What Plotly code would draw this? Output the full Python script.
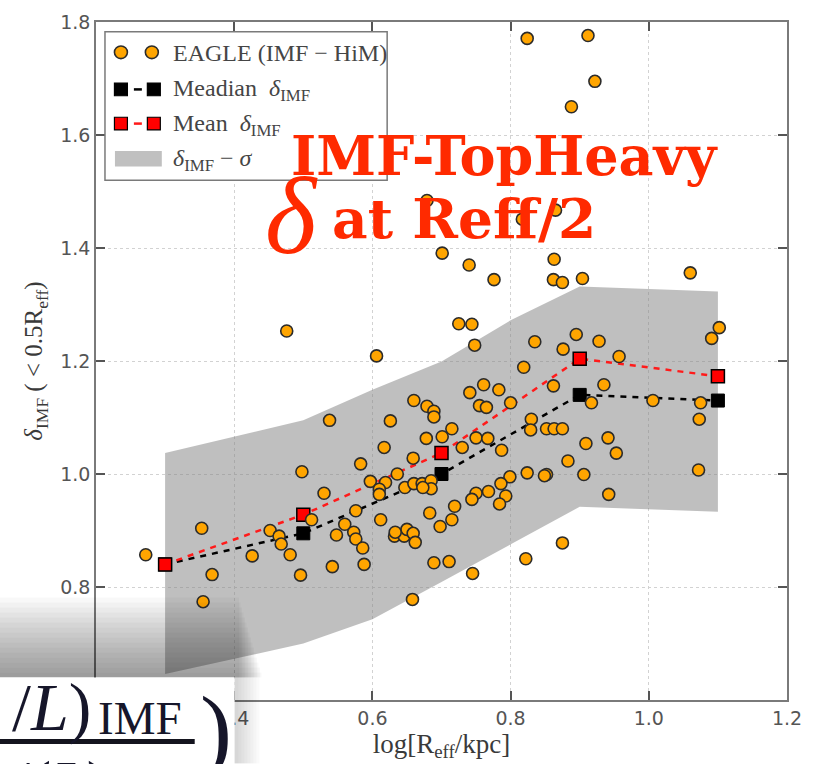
import plotly.graph_objects as go

# ---------------- data ----------------
eagle_x = [0.824, 0.912, 0.922, 0.888, 0.679, 0.865, 0.817, 0.701, 0.740, 0.776,
           0.863, 0.862, 0.875, 0.904, 1.060, 0.476, 0.725, 0.744, 0.748, 0.606,
           0.835, 0.819, 0.761, 0.741, 0.783, 0.660, 0.679, 0.689, 0.689, 0.755,
           0.765, 0.800, 0.626, 0.538, 0.715, 0.701, 0.678, 0.750, 0.767, 0.830,
           0.829, 0.852, 0.863, 0.862, 1.102, 1.091, 0.895, 0.928, 0.876, 0.957,
           0.935, 0.917, 1.006, 1.075, 1.073, 0.875, 0.909, 0.941, 0.953, 0.883,
           0.906, 0.942, 1.072, 0.875, 0.852, 0.617, 0.730, 0.787, 0.583, 0.659,
           0.498, 0.636, 0.597, 0.619, 0.610, 0.610, 0.647, 0.660, 0.672, 0.685,
           0.685, 0.673, 0.824, 0.849, 0.799, 0.786, 0.793, 0.784, 0.768, 0.750,
           0.744, 0.719, 0.683, 0.715, 0.698, 0.576, 0.560, 0.548, 0.573, 0.576,
           0.586, 0.612, 0.632, 0.646, 0.650, 0.659, 0.662, 0.633, 0.588, 0.689,
           0.711, 0.745, 0.822, 0.658, 0.542, 0.496, 0.368, 0.355, 0.272, 0.353,
           0.530, 0.512, 0.452, 0.465, 0.468, 0.481, 0.426]
eagle_y = [1.771, 1.776, 1.695, 1.650, 1.484, 1.467, 1.451, 1.391, 1.370, 1.344,
           1.380, 1.344, 1.339, 1.346, 1.356, 1.253, 1.266, 1.265, 1.228, 1.209,
           1.234, 1.189, 1.158, 1.144, 1.149, 1.130, 1.120, 1.111, 1.101, 1.121,
           1.118, 1.126, 1.094, 1.095, 1.080, 1.066, 1.063, 1.064, 1.063, 1.097,
           1.078, 1.080, 1.080, 1.156, 1.259, 1.240, 1.247, 1.235, 1.221, 1.208,
           1.158, 1.126, 1.130, 1.126, 1.097, 1.080, 1.054, 1.064, 1.037, 1.023,
           0.999, 0.964, 1.007, 0.878, 0.999, 1.047, 1.047, 1.042, 1.018, 1.028,
           1.004, 1.000, 0.987, 0.985, 0.973, 0.964, 0.976, 0.983, 0.983, 0.988,
           0.974, 0.976, 1.002, 0.997, 0.995, 0.983, 0.961, 0.947, 0.969, 0.966,
           0.955, 0.943, 0.931, 0.919, 0.907, 0.935, 0.911, 0.892, 0.897, 0.885,
           0.869, 0.919, 0.890, 0.890, 0.902, 0.895, 0.879, 0.897, 0.840, 0.843,
           0.845, 0.824, 0.850, 0.778, 0.836, 0.821, 0.822, 0.774, 0.857, 0.904,
           0.966, 0.919, 0.900, 0.890, 0.876, 0.857, 0.855]

bin_x = [0.3, 0.5, 0.7, 0.9, 1.1]
median_delta = [0.840, 0.895, 1.000, 1.140, 1.130]
mean_delta = [0.840, 0.928, 1.037, 1.204, 1.173]

band_x = [0.3, 0.5, 0.6, 0.7, 0.8, 0.9, 1.1]
band_upper = [1.037, 1.095, 1.149, 1.199, 1.272, 1.332, 1.323]
band_lower = [0.646, 0.700, 0.743, 0.809, 0.875, 0.942, 0.933]

x_ticks = [0.2, 0.4, 0.6, 0.8, 1.0, 1.2]
y_ticks = [0.6, 0.8, 1.0, 1.2, 1.4, 1.6, 1.8]

legend_labels = ["EAGLE (IMF \u2212 HiM)",
                 "Meadian  <i>\u03b4</i><sub>IMF</sub>",
                 "Mean  <i>\u03b4</i><sub>IMF</sub>",
                 "<i>\u03b4</i><sub>IMF</sub> \u2212 <i>\u03c3</i>"]

# ---------------- layout geometry (pixels) ----------------
W, H = 813, 764
L, R, T, B = 96, 789, 11, 705


def PX(px):
    return (px - L) / (R - L)


def PY(py):
    return (B - py) / (B - T)


ORANGE = "#ffa500"
EDGE = "#2b2b2b"
SERIF = "Liberation Serif"

fig = go.Figure()

# sigma band
fig.add_trace(go.Scatter(
    x=band_x + band_x[::-1], y=band_upper + band_lower[::-1],
    fill="toself", fillcolor="rgba(128,128,128,0.5)", line=dict(width=0),
    mode="lines", hoverinfo="skip", showlegend=False))

# median / mean
fig.add_trace(go.Scatter(
    x=bin_x, y=median_delta, mode="lines+markers",
    line=dict(color="black", width=2.5, dash="6px,6px"),
    marker=dict(symbol="square", size=13, color="black", line=dict(color="black", width=1)),
    showlegend=False))
fig.add_trace(go.Scatter(
    x=bin_x, y=mean_delta, mode="lines+markers",
    line=dict(color="#ff1a1a", width=2.5, dash="6px,6px"),
    marker=dict(symbol="square", size=13, color="#ff0000", line=dict(color="black", width=1.5)),
    showlegend=False))

# EAGLE galaxies
fig.add_trace(go.Scatter(
    x=eagle_x, y=eagle_y, mode="markers",
    marker=dict(size=12, color=ORANGE, line=dict(color=EDGE, width=1.6)),
    showlegend=False))

shapes = []
annotations = []

# ---------- manual legend ----------
shapes.append(dict(type="rect", xref="paper", yref="paper",
                   x0=PX(105), x1=PX(388), y0=PY(173), y1=PY(21),
                   fillcolor="white", line=dict(color="#7a7a7a", width=1.5), layer="above"))
rows = [42, 80, 115, 151]
r = 6.5
for cx in (121, 152):
    shapes.append(dict(type="circle", xref="paper", yref="paper",
                       x0=PX(cx - r), x1=PX(cx + r), y0=PY(rows[0] + r), y1=PY(rows[0] - r),
                       fillcolor=ORANGE, line=dict(color=EDGE, width=1.6), layer="above"))
for row, fill, lc in ((rows[1], "black", "black"), (rows[2], "#ff0000", "#ff1a1a")):
    shapes.append(dict(type="line", xref="paper", yref="paper",
                       x0=PX(134), x1=PX(142), y0=PY(row), y1=PY(row),
                       line=dict(color=lc, width=2.5), layer="above"))
    for cx in (121, 154):
        shapes.append(dict(type="rect", xref="paper", yref="paper",
                           x0=PX(cx - 6.5), x1=PX(cx + 6.5), y0=PY(row + 6.5), y1=PY(row - 6.5),
                           fillcolor=fill, line=dict(color="black", width=1.2), layer="above"))
shapes.append(dict(type="rect", xref="paper", yref="paper",
                   x0=PX(115), x1=PX(162), y0=PY(159), y1=PY(143),
                   fillcolor="#c0c0c0", line=dict(width=0), layer="above"))
for row, txt in zip(rows, legend_labels):
    annotations.append(dict(xref="paper", yref="paper", x=PX(171), y=PY(row + 1),
                            xanchor="left", yanchor="middle", showarrow=False, text=txt,
                            font=dict(family=SERIF, size=24, color="#454545")))

# ---------- red slide labels ----------
RED = "#ff2a00"
annotations.append(dict(xref="paper", yref="paper", x=PX(290), y=PY(148),
                        xanchor="left", yanchor="middle", showarrow=False,
                        text="<b>IMF-TopHeavy</b>",
                        font=dict(family="DejaVu Serif", size=54, color=RED)))
annotations.append(dict(xref="paper", yref="paper", x=PX(292), y=PY(210),
                        xanchor="center", yanchor="middle", showarrow=False,
                        text="<i>\u03b4</i>",
                        font=dict(family=SERIF, size=110, color=RED)))
annotations.append(dict(xref="paper", yref="paper", x=PX(331), y=PY(212),
                        xanchor="left", yanchor="middle", showarrow=False,
                        text="<b>at Reff/2</b>",
                        font=dict(family="DejaVu Serif", size=55, color=RED)))

# ---------- formula box of the slide (bottom-left) ----------
N = 16
for i in range(N):
    shapes.append(dict(type="rect", xref="paper", yref="paper",
                       x0=PX(-10), x1=PX(238 + 1.5 * (N - i)), y0=PY(682), y1=PY(682 - 82 * (i + 1) / N),
                       fillcolor="black", opacity=0.026, line=dict(width=0), layer="above"))
for i in range(8):
    shapes.append(dict(type="rect", xref="paper", yref="paper",
                       x0=PX(234), x1=PX(236 + 3 * (i + 1)), y0=PY(770), y1=PY(682),
                       fillcolor="black", opacity=0.018, line=dict(width=0), layer="above"))
shapes.append(dict(type="rect", xref="paper", yref="paper",
                   x0=PX(-10), x1=PX(235), y0=PY(775), y1=PY(682),
                   fillcolor="white", line=dict(width=0), layer="above"))
shapes.append(dict(type="rect", xref="paper", yref="paper",
                   x0=PX(-10), x1=PX(195), y0=PY(750), y1=PY(745),
                   fillcolor="#14141e", line=dict(width=0), layer="above"))
FCOL = "#16162a"
annotations.append(dict(xref="paper", yref="paper", x=PX(10), y=PY(712),
                        xanchor="left", yanchor="middle", showarrow=False,
                        text="/<i>L</i>)", font=dict(family=SERIF, size=68, color=FCOL)))
annotations.append(dict(xref="paper", yref="paper", x=PX(96), y=PY(723),
                        xanchor="left", yanchor="middle", showarrow=False,
                        text="IMF", font=dict(family=SERIF, size=47, color=FCOL)))
annotations.append(dict(xref="paper", yref="paper", x=PX(216), y=PY(735),
                        xanchor="center", yanchor="middle", showarrow=False,
                        text=")", font=dict(family=SERIF, size=96, color=FCOL)))
annotations.append(dict(xref="paper", yref="paper", x=PX(10), y=PY(752),
                        xanchor="left", yanchor="top", showarrow=False,
                        text="/(<i>L</i>)", font=dict(family=SERIF, size=64, color=FCOL)))

axis_common = dict(
    showline=True, linecolor="#7a7a7a", linewidth=1.5, mirror="ticks",
    ticks="inside", ticklen=9, tickwidth=1.5, tickcolor="#555555",
    showgrid=True, gridcolor="#d2d2d2", griddash="dot", gridwidth=1,
    zeroline=False,
    tickfont=dict(family="DejaVu Sans", size=19, color="#555555"),
)

fig.update_layout(
    width=W, height=H,
    margin=dict(l=L, r=W - R, t=T, b=H - B),
    paper_bgcolor="white", plot_bgcolor="white",
    showlegend=False,
    xaxis=dict(range=[0.2, 1.2], tickvals=x_ticks, ticktext=[f"{v:.1f}" for v in x_ticks],
               title=dict(text="log[R<sub>eff</sub>/kpc]", standoff=6,
                          font=dict(family=SERIF, size=27, color="#3a3a3a")),
               **axis_common),
    yaxis=dict(range=[0.6, 1.8], tickvals=y_ticks, ticktext=[f"{v:.1f}" for v in y_ticks],
               title=dict(text="<i>\u03b4</i><sub>IMF</sub> ( < 0.5R<sub>eff</sub>)", standoff=10,
                          font=dict(family=SERIF, size=25, color="#3a3a3a")),
               **axis_common),
    shapes=shapes,
    annotations=annotations,
)

fig.write_html("out.html")
